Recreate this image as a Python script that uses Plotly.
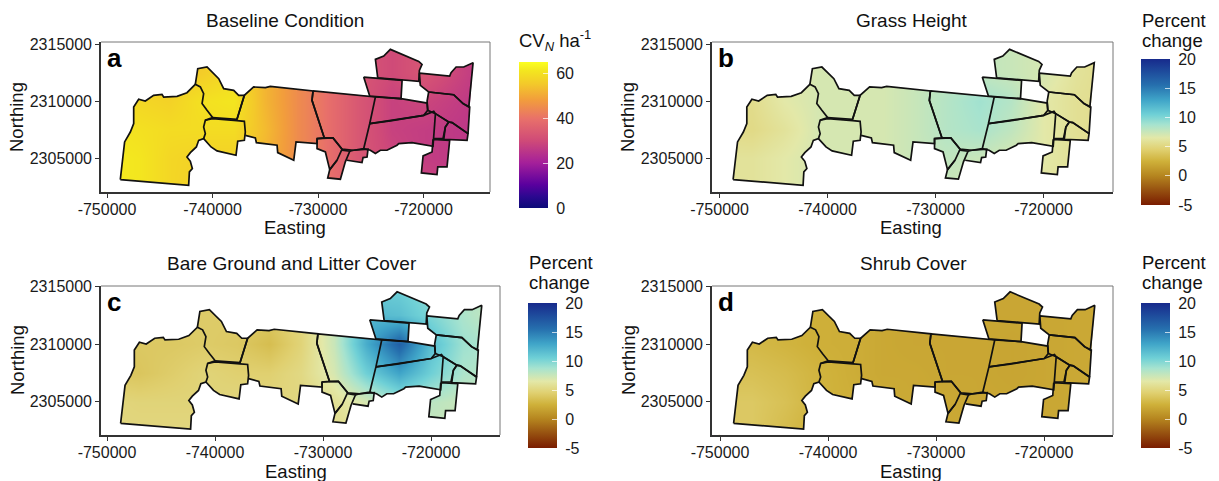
import plotly.graph_objects as go

W, H = 1219, 481

# Zone boundaries: (Easting km, Northing km)
ZONE_A = [(-748.74,2303.11),(-748.58,2304.22),(-748.33,2306.41),(-747.79,2307.28),(-747.47,2308.01),(-747.47,2309.47),(-747.0,2310.15),(-746.37,2310.0),(-745.58,2310.5),(-744.79,2310.58),(-744.63,2310.35),(-743.36,2310.41),(-742.42,2310.73),(-741.63,2311.46),(-741.15,2311.23),(-740.84,2310.64),(-740.99,2309.77),(-740.52,2309.18),(-739.98,2308.54),(-740.68,2308.31),(-740.84,2307.72),(-740.68,2307.14),(-740.84,2306.7),(-741.31,2306.55),(-741.53,2305.97),(-742.1,2305.47),(-742.42,2305.09),(-742.1,2304.71),(-741.91,2304.07),(-742.19,2303.78),(-742.26,2302.61),(-748.74,2303.11)]
ZONE_B = [(-741.63,2311.46),(-741.4,2312.83),(-740.52,2312.98),(-739.89,2312.39),(-739.41,2311.96),(-738.94,2311.08),(-737.99,2310.93),(-737.52,2310.5),(-736.98,2310.5),(-737.68,2308.39),(-739.98,2308.54)]
ZONE_C = [(-740.68,2308.31),(-739.98,2308.45),(-737.68,2308.28),(-736.98,2308.22),(-736.89,2307.28),(-736.98,2306.55),(-737.61,2306.47),(-737.77,2305.24),(-739.57,2305.62),(-740.14,2305.97),(-740.84,2306.7)]
ZONE_D = [(-737.68,2308.39),(-736.98,2310.5),(-736.1,2311.23),(-734.99,2311.17),(-734.52,2311.28),(-730.47,2310.88),(-730.57,2310.06),(-729.4,2306.76),(-730.09,2306.7),(-730.09,2306.26),(-732.08,2306.41),(-732.3,2304.8),(-733.82,2305.47),(-733.88,2306.12),(-735.84,2306.35),(-735.94,2306.76),(-736.89,2306.99)]
ZONE_E = [(-730.47,2310.88),(-724.56,2310.35),(-725.1,2308.01),(-725.67,2305.82),(-726.62,2305.68),(-727.72,2305.77),(-728.58,2306.76),(-729.4,2306.76),(-730.57,2310.06),(-730.47,2310.88)]
ZONE_F = [(-730.09,2306.7),(-728.58,2306.76),(-727.72,2305.77),(-728.2,2304.8),(-728.89,2303.98),(-729.08,2304.8),(-729.3,2305.53),(-730.09,2305.82),(-730.09,2306.7)]
ZONE_G = [(-727.72,2305.68),(-726.99,2305.59),(-727.41,2304.66),(-727.88,2303.14),(-729.08,2303.25),(-728.89,2303.98),(-728.2,2304.8)]
ZONE_H = [(-726.99,2305.59),(-726.62,2305.68),(-725.26,2305.77),(-725.35,2305.09),(-725.73,2305.04),(-725.83,2304.6),(-727.25,2304.8)]
ZONE_I = [(-724.34,2312.04),(-720.45,2311.72),(-720.39,2312.69),(-720.14,2313.21),(-720.45,2313.47),(-723.14,2314.53),(-723.77,2313.94),(-724.56,2313.65),(-724.34,2312.04)]
ZONE_J = [(-725.67,2312.1),(-722.03,2311.81),(-722.13,2310.2),(-724.56,2310.35),(-725.1,2310.44),(-725.67,2312.1)]
ZONE_K = [(-720.39,2312.45),(-719.03,2312.34),(-717.52,2312.19),(-717.39,2312.48),(-716.91,2312.98),(-716.19,2312.98),(-715.3,2313.36),(-715.71,2309.47),(-716.25,2309.77),(-717.14,2310.55),(-719.51,2310.79),(-720.3,2311.37),(-720.39,2312.45)]
ZONE_L = [(-719.51,2310.79),(-717.14,2310.55),(-716.25,2309.77),(-715.62,2309.47),(-715.78,2307.14),(-717.29,2308.1),(-717.61,2308.16),(-718.87,2308.89),(-719.6,2309.18),(-719.66,2310.0),(-719.51,2310.79)]
ZONE_M = [(-724.56,2310.35),(-722.13,2310.2),(-719.66,2309.82),(-719.6,2309.18),(-719.98,2308.74),(-723.14,2308.25),(-725.1,2308.01)]
ZONE_N = [(-725.1,2308.01),(-723.14,2308.25),(-719.98,2308.74),(-719.03,2309.09),(-718.87,2308.89),(-719.1,2306.03),(-721.09,2306.35),(-722.35,2306.26),(-722.51,2306.12),(-723.46,2305.68),(-724.09,2305.68),(-724.56,2305.39),(-725.04,2305.68),(-725.67,2305.82)]
ZONE_O = [(-718.87,2308.89),(-717.61,2308.16),(-717.93,2307.72),(-718.15,2306.7),(-719.03,2306.7)]
ZONE_P = [(-717.61,2308.16),(-717.29,2308.1),(-715.78,2307.14),(-715.87,2306.55),(-718.08,2306.64),(-717.93,2307.72),(-717.61,2308.16)]
ZONE_Q = [(-719.1,2306.64),(-717.52,2306.55),(-717.77,2304.22),(-718.65,2304.22),(-718.72,2303.55),(-720.2,2303.69),(-720.04,2305.18),(-719.19,2305.53),(-719.1,2306.64)]
ZONES = [ZONE_A,ZONE_B,ZONE_C,ZONE_D,ZONE_E,ZONE_F,ZONE_G,ZONE_H,ZONE_I,ZONE_J,ZONE_K,ZONE_L,ZONE_M,ZONE_N,ZONE_O,ZONE_P,ZONE_Q]

# Outer edge of the whole study area, clockwise
OUTLINE = [(-748.74,2303.11),(-748.58,2304.22),(-748.33,2306.41),(-747.79,2307.28),(-747.47,2308.01),(-747.47,2309.47),(-747.0,2310.15),(-746.37,2310.0),(-745.58,2310.5),(-744.79,2310.58),(-744.63,2310.35),(-743.36,2310.41),(-742.42,2310.73),(-741.63,2311.46),(-741.4,2312.83),(-740.52,2312.98),(-739.89,2312.39),(-739.41,2311.96),(-738.94,2311.08),(-737.99,2310.93),(-737.52,2310.5),(-736.98,2310.5),(-736.1,2311.23),(-734.99,2311.17),(-734.52,2311.28),(-730.47,2310.88),(-725.1,2310.44),(-725.67,2312.1),(-724.34,2312.04),(-724.56,2313.65),(-723.77,2313.94),(-723.14,2314.53),(-720.45,2313.47),(-720.14,2313.21),(-720.39,2312.69),(-720.39,2312.45),(-719.03,2312.34),(-717.52,2312.19),(-717.39,2312.48),(-716.91,2312.98),(-716.19,2312.98),(-715.3,2313.36),(-715.62,2309.47),(-715.78,2307.14),(-715.87,2306.55),(-717.52,2306.55),(-717.77,2304.22),(-718.65,2304.22),(-718.72,2303.55),(-720.2,2303.69),(-720.04,2305.18),(-719.19,2305.53),(-719.1,2306.03),(-721.09,2306.35),(-722.35,2306.26),(-722.51,2306.12),(-723.46,2305.68),(-724.09,2305.68),(-724.56,2305.39),(-725.04,2305.68),(-725.26,2305.77),(-725.35,2305.09),(-725.73,2305.04),(-725.83,2304.6),(-727.25,2304.8),(-727.41,2304.66),(-727.88,2303.14),(-729.08,2303.25),(-728.89,2303.98),(-729.08,2304.8),(-729.3,2305.53),(-730.09,2305.82),(-730.09,2306.26),(-732.08,2306.41),(-732.3,2304.8),(-733.82,2305.47),(-733.88,2306.12),(-735.84,2306.35),(-735.94,2306.76),(-736.89,2306.99),(-736.98,2306.55),(-737.61,2306.47),(-737.77,2305.24),(-739.57,2305.62),(-740.14,2305.97),(-740.84,2306.7),(-741.31,2306.55),(-741.53,2305.97),(-742.1,2305.47),(-742.42,2305.09),(-742.1,2304.71),(-741.91,2304.07),(-742.19,2303.78),(-742.26,2302.61)]
# The excluded parcel inside the area
HOLE = [(-722.03,2311.81),(-720.45,2311.72),(-720.3,2311.37),(-719.51,2310.79),(-719.66,2309.82),(-722.13,2310.2)]

E_GRID = [-750,-747,-744,-741,-738,-735,-732,-729,-726,-723,-720,-717,-714]
N_GRID = [2302.5,2305,2307.5,2310,2312.5,2315]

BASELINE = [
    [62,61,58,56,57,53,46,40,33,30,29,27,27],
    [62,61,58,57,57,52,45,39,33,29,27,26,26],
    [61,60,59,59,59,53,45,39,33,28,27,26,25],
    [59,58,57,60,61,52,45,39,33,28,29,27,25],
    [57,56,55,56,59,52,45,39,33,30,33,29,25],
    [57,56,55,55,57,51,45,39,33,30,33,29,25],
]
GRASS = [
    [6,6,6.5,7,7,7,7,7.5,7,7,6.2,5.8,5.8],
    [6,6,6.5,7,7,7,7.5,7.8,7.5,7,6.5,5.8,5.8],
    [5.5,5.3,6,7,7,7,7.5,8.2,8.6,7.8,6.5,5.8,5.5],
    [5.5,5.5,6.5,7,7,7,7.5,8.2,8.9,8.2,6.5,5.8,5.5],
    [6,6,6.5,7,7,7,7.5,7.8,7.8,7.5,7,6,5.5],
    [6,6,6.5,7,7,7,7.5,7.8,7.8,7.5,7,6,5.5],
]
BARE = [
    [5,5,5,5,5,5,5,5.5,6,7,7.5,7.5,7.5],
    [5,4.8,4.8,4.8,5,5,5,5.8,7,8.8,8,7.5,7.5],
    [4,3.8,4.3,4.8,4.5,4.5,5.2,7,10.5,13,10.5,8.5,8],
    [4,4,4,4.2,4,3.3,4.8,7.5,12.5,16.5,11.5,9,8.3],
    [4.5,4.5,4.3,4.2,4.2,4,5,7.5,12,11.5,10,8.5,7.5],
    [4.5,4.5,4.3,4.2,4.2,4,5,7.5,10.5,10.5,9.5,8.5,7.5],
]
SHRUB = [
    [4,4,3.2,2.4,2.4,2.3,2,2,1.9,1.9,1.9,2,2],
    [4,4,3.5,2.7,2.4,2.2,2,2,1.9,1.9,1.9,2,2],
    [3.5,3.5,3.2,2.7,2.3,2,2,1.9,1.9,1.8,1.9,2,2],
    [3,3,2.7,2.4,2.3,2,1.9,1.9,1.9,1.8,1.9,2,2],
    [3,3,2.7,2.4,2.3,2,1.9,1.9,1.9,1.9,1.9,2,2],
    [3,3,2.7,2.4,2.3,2,1.9,1.9,1.9,1.9,1.9,2,2],
]

X_TICKS = [-750000,-740000,-730000,-720000]
Y_TICKS = [2305000,2310000,2315000]
TITLES = ["Baseline Condition","Grass Height","Bare Ground and Litter Cover","Shrub Cover"]
LETTERS = ["a","b","c","d"]
PCT_TICKS = [-5,0,5,10,15,20]
BASE_TICKS = [0,20,40,60]

PLASMA = [[0,"#0b0a78"],[0.08,"#2c0890"],[0.16,"#5a009e"],[0.31,"#a5209a"],[0.46,"#cf4a78"],[0.61,"#e8706a"],[0.74,"#f29d3c"],[0.85,"#f3c92a"],[0.94,"#f3e61f"],[1,"#fbff20"]]
PCT = [[0,"#7a1c00"],[0.1,"#965010"],[0.2,"#b5851f"],[0.3,"#cfb13a"],[0.38,"#e0d070"],[0.46,"#e3e8a8"],[0.55,"#a6e3cf"],[0.62,"#6fd0d6"],[0.72,"#3fa4c8"],[0.82,"#2670ae"],[1,"#172a8c"]]

PANELS = [
    dict(box=(101,42,490,192), xr=(-750569,-713697), yr=(2302018,2315175), z=BASELINE, cs=PLASMA, lim=(0,65), ticks=BASE_TICKS, cb=(519,62,208), tx=285, ty=21, ex=295, ey=227, nx=17, ny=117),
    dict(box=(712,42,1113,192), xr=(-750694,-713565), yr=(2302018,2315175), z=GRASS, cs=PCT, lim=(-5,20), ticks=PCT_TICKS, cb=(1141,59,205), tx=912, ty=21, ex=911, ey=227, nx=628, ny=117),
    dict(box=(101,286,500,435), xr=(-750556,-713611), yr=(2302101,2315035), z=BARE, cs=PCT, lim=(-5,20), ticks=PCT_TICKS, cb=(528,303,448), tx=292, ty=263, ex=296, ey=471, nx=17, ny=360),
    dict(box=(712,286,1113,435), xr=(-750741,-713611), yr=(2302101,2315035), z=SHRUB, cs=PCT, lim=(-5,20), ticks=PCT_TICKS, cb=(1141,303,448), tx=913, ty=263, ex=911, ey=471, nx=628, ny=360),
]

FONT = "Liberation Sans, Arial, sans-serif"
INK = "#1a1a1a"
TICK_SIZE = 16
LABEL = dict(family=FONT, size=18.5, color="#111")
fig = go.Figure()
annotations, shapes = [], []

def fx(p): return p / W
def fy(p): return 1 - p / H

def label(text, x, y, xanchor="center", font=LABEL, angle=0):
    annotations.append(dict(text=text, xref="paper", yref="paper", x=fx(x), y=fy(y), xanchor=xanchor,
                            yanchor="middle", showarrow=False, font=font, textangle=angle))

for i, p in enumerate(PANELS):
    sfx = "" if i == 0 else str(i + 1)
    xa, ya = "x" + sfx, "y" + sfx
    l, t, r, b = p["box"]
    cx, ctop, cbot = p["cb"]
    fig.add_trace(go.Heatmap(
        x=[v * 1000 for v in E_GRID], y=[v * 1000 for v in N_GRID], z=p["z"],
        xaxis=xa, yaxis=ya, colorscale=p["cs"], zmin=p["lim"][0], zmax=p["lim"][1], zsmooth="best",
        hoverinfo="skip",
        colorbar=dict(xref="paper", yref="paper", x=fx(cx), xanchor="left", xpad=0, ypad=0,
                      y=fy((ctop + cbot) / 2), yanchor="middle",
                      lenmode="pixels", len=cbot - ctop, thicknessmode="pixels", thickness=29,
                      outlinewidth=0, ticks="inside", ticklen=5, tickcolor="rgba(255,255,255,0.7)", tickwidth=1,
                      tickvals=p["ticks"], ticktext=["\u00a0" + str(v) for v in p["ticks"]],
                      tickfont=dict(family=FONT, size=TICK_SIZE, color=INK)),
    ))
    # white sheet with a study-area shaped opening, so the surface only shows inside the zones
    rect = [(-760,2295),(-705,2295),(-705,2322),(-760,2322),(-760,2295)]
    sheet = rect + OUTLINE + [OUTLINE[0], rect[0]]
    fig.add_trace(go.Scatter(x=[q[0]*1000 for q in sheet], y=[q[1]*1000 for q in sheet], xaxis=xa, yaxis=ya,
                             mode="lines", line=dict(width=0), fill="toself", fillcolor="white",
                             hoverinfo="skip", showlegend=False))
    fig.add_trace(go.Scatter(x=[q[0]*1000 for q in HOLE], y=[q[1]*1000 for q in HOLE], xaxis=xa, yaxis=ya,
                             mode="lines", line=dict(width=0), fill="toself", fillcolor="white",
                             hoverinfo="skip", showlegend=False))
    lx, ly = [], []
    for zone in ZONES:
        lx += [q[0]*1000 for q in zone] + [None]
        ly += [q[1]*1000 for q in zone] + [None]
    fig.add_trace(go.Scatter(x=lx, y=ly, xaxis=xa, yaxis=ya, mode="lines",
                             line=dict(color="#111111", width=1.7), hoverinfo="skip", showlegend=False))

    fig.layout["xaxis" + sfx] = dict(
        domain=[fx(l), fx(r)], range=list(p["xr"]), anchor=ya, tickvals=X_TICKS,
        ticktext=[str(v) for v in X_TICKS], ticks="outside", ticklen=4, tickcolor="#333", tickwidth=1.2,
        ticklabelstandoff=-2,
        tickfont=dict(family=FONT, size=TICK_SIZE, color=INK), showgrid=False, zeroline=False,
        showline=True, linecolor="#333", linewidth=1.6)
    fig.layout["yaxis" + sfx] = dict(
        domain=[fy(b), fy(t)], range=list(p["yr"]), anchor=xa, tickvals=Y_TICKS, tickformat="d",
        ticks="outside", ticklen=4, tickcolor="#333", tickwidth=1.2,
        tickfont=dict(family=FONT, size=TICK_SIZE, color=INK), showgrid=False, zeroline=False,
        showline=True, linecolor="#333", linewidth=1.6)

    # top and right border
    shapes.append(dict(type="line", xref="paper", yref="paper", x0=fx(l), x1=fx(r), y0=fy(t), y1=fy(t), line=dict(color="#777", width=1)))
    shapes.append(dict(type="line", xref="paper", yref="paper", x0=fx(r), x1=fx(r), y0=fy(t), y1=fy(b), line=dict(color="#777", width=1)))

    label(TITLES[i], p["tx"], p["ty"], font=dict(family=FONT, size=19, color="#111"))
    label("Easting", p["ex"], p["ey"])
    label("Northing", p["nx"], p["ny"], angle=-90)
    label("<b>%s</b>" % LETTERS[i], l + 4, t + 16, xanchor="left", font=dict(family=FONT, size=26, color="#000"))
    if i == 0:
        label("CV<sub><i>N</i></sub> ha<sup>-1</sup>", 517, 41, xanchor="left")
    else:
        label("Percent", cx - 1, ctop - 41 if i > 1 else ctop - 39, xanchor="left")
        label("change", cx - 1, ctop - 21 if i > 1 else ctop - 19, xanchor="left")

fig.update_layout(width=W, height=H, margin=dict(l=0, r=0, t=0, b=0, autoexpand=False),
                  paper_bgcolor="white", plot_bgcolor="white", showlegend=False,
                  annotations=annotations, shapes=shapes)
fig.write_html("out.html", config={"displayModeBar": False}, post_script="document.body.style.margin='0';")
